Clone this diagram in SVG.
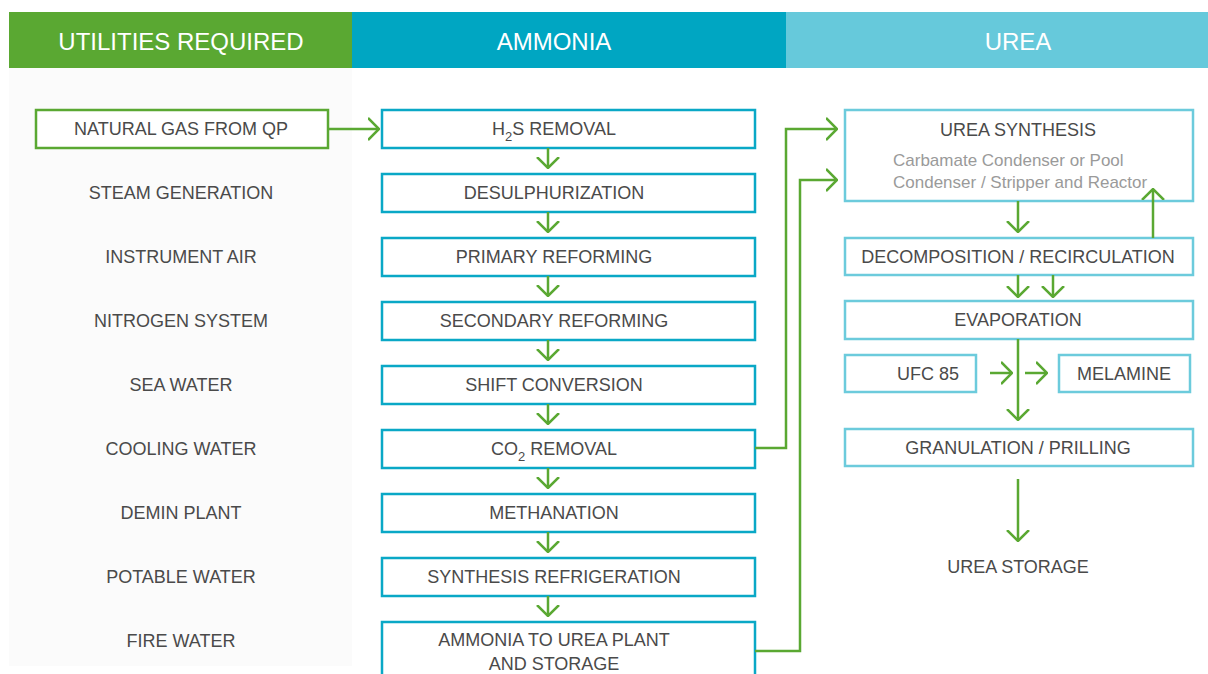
<svg xmlns="http://www.w3.org/2000/svg" width="1208" height="674" viewBox="0 0 1208 674">
  <style>
    .hdr { font-family: "Liberation Sans", Arial, sans-serif; font-size: 24px; fill: #ffffff; text-anchor: middle; }
    .lbl { font-family: "Liberation Sans", Arial, sans-serif; font-size: 18px; fill: #4a4a4a; text-anchor: middle; }
    .sub { font-family: "Liberation Sans", Arial, sans-serif; font-size: 17px; fill: #9a9a9a; }
    .amm { fill: #ffffff; stroke: #0aa8c6; stroke-width: 2.5; }
    .urea { fill: #ffffff; stroke: #6ccbdc; stroke-width: 2.5; }
    .gbox { fill: #ffffff; stroke: #5aa832; stroke-width: 2.5; }
    .flow { fill: none; stroke: #5aa832; stroke-width: 2.5; }
  </style>
  <defs>
    <marker id="chev" viewBox="0 0 12 24" refX="11" refY="12" markerWidth="12" markerHeight="24" markerUnits="userSpaceOnUse" orient="auto">
      <path d="M0,1 L11,12 L0,23" fill="none" stroke="#5aa832" stroke-width="2.5"/>
    </marker>
  </defs>

  <rect x="0" y="0" width="1208" height="674" fill="#ffffff"/>

  <!-- column headers -->
  <g id="headers">
    <rect x="9" y="68" width="343" height="598" fill="#fbfbfb"/>
    <rect x="9" y="12" width="343" height="56" fill="#5aa832"/>
    <rect x="352" y="12" width="434" height="56" fill="#00a6c2"/>
    <rect x="786" y="12" width="422" height="56" fill="#66c9db"/>
    <text class="hdr" x="181" y="50">UTILITIES REQUIRED</text>
    <text class="hdr" x="554" y="50">AMMONIA</text>
    <text class="hdr" x="1018" y="50">UREA</text>
  </g>

  <!-- utilities -->
  <g id="natural-gas"><rect class="gbox" x="36" y="110" width="292" height="38"/><text class="lbl" x="181" y="135">NATURAL GAS FROM QP</text></g>
  <g id="steam"><text class="lbl" x="181" y="199">STEAM GENERATION</text></g>
  <g id="instrument-air"><text class="lbl" x="181" y="263">INSTRUMENT AIR</text></g>
  <g id="nitrogen"><text class="lbl" x="181" y="327">NITROGEN SYSTEM</text></g>
  <g id="sea-water"><text class="lbl" x="181" y="391">SEA WATER</text></g>
  <g id="cooling-water"><text class="lbl" x="181" y="455">COOLING WATER</text></g>
  <g id="demin"><text class="lbl" x="181" y="519">DEMIN PLANT</text></g>
  <g id="potable-water"><text class="lbl" x="181" y="583">POTABLE WATER</text></g>
  <g id="fire-water"><text class="lbl" x="181" y="647">FIRE WATER</text></g>

  <!-- ammonia train -->
  <g id="h2s-removal"><rect class="amm" x="382" y="110" width="373" height="38"/><text class="lbl" x="554" y="135">H<tspan font-size="13" dy="6">2</tspan><tspan dy="-6">S REMOVAL</tspan></text></g>
  <g id="desulphurization"><rect class="amm" x="382" y="174" width="373" height="38"/><text class="lbl" x="554" y="199">DESULPHURIZATION</text></g>
  <g id="primary-reforming"><rect class="amm" x="382" y="238" width="373" height="38"/><text class="lbl" x="554" y="263">PRIMARY REFORMING</text></g>
  <g id="secondary-reforming"><rect class="amm" x="382" y="302" width="373" height="38"/><text class="lbl" x="554" y="327">SECONDARY REFORMING</text></g>
  <g id="shift-conversion"><rect class="amm" x="382" y="366" width="373" height="38"/><text class="lbl" x="554" y="391">SHIFT CONVERSION</text></g>
  <g id="co2-removal"><rect class="amm" x="382" y="430" width="373" height="38"/><text class="lbl" x="554" y="455">CO<tspan font-size="13" dy="6">2</tspan><tspan dy="-6"> REMOVAL</tspan></text></g>
  <g id="methanation"><rect class="amm" x="382" y="494" width="373" height="38"/><text class="lbl" x="554" y="519">METHANATION</text></g>
  <g id="synthesis-refrigeration"><rect class="amm" x="382" y="558" width="373" height="38"/><text class="lbl" x="554" y="583">SYNTHESIS REFRIGERATION</text></g>
  <g id="ammonia-to-urea"><rect class="amm" x="382" y="622" width="373" height="70"/><text class="lbl" x="554" y="646">AMMONIA TO UREA PLANT</text><text class="lbl" x="554" y="670">AND STORAGE</text></g>

  <!-- urea train -->
  <g id="urea-synthesis"><rect class="urea" x="845" y="110" width="348" height="91"/><text class="lbl" x="1018" y="136">UREA SYNTHESIS</text><text class="sub" x="893" y="166">Carbamate Condenser or Pool</text><text class="sub" x="893" y="188">Condenser / Stripper and Reactor</text></g>
  <g id="decomposition"><rect class="urea" x="845" y="238" width="348" height="37"/><text class="lbl" x="1018" y="263">DECOMPOSITION / RECIRCULATION</text></g>
  <g id="evaporation"><rect class="urea" x="845" y="301" width="348" height="38"/><text class="lbl" x="1018" y="326">EVAPORATION</text></g>
  <g id="ufc85"><rect class="urea" x="845" y="355" width="131" height="37"/><text class="lbl" x="928" y="380">UFC 85</text></g>
  <g id="melamine"><rect class="urea" x="1059" y="355" width="131" height="37"/><text class="lbl" x="1124" y="380">MELAMINE</text></g>
  <g id="granulation"><rect class="urea" x="845" y="429" width="348" height="37"/><text class="lbl" x="1018" y="454">GRANULATION / PRILLING</text></g>
  <g id="urea-storage"><text class="lbl" x="1018" y="573">UREA STORAGE</text></g>

  <!-- connectors -->
  <g id="connectors">
    <path class="flow" d="M328,129 H379" marker-end="url(#chev)"/>
    <path class="flow" d="M548,148 V168" marker-end="url(#chev)"/>
    <path class="flow" d="M548,212 V232" marker-end="url(#chev)"/>
    <path class="flow" d="M548,276 V296" marker-end="url(#chev)"/>
    <path class="flow" d="M548,340 V360" marker-end="url(#chev)"/>
    <path class="flow" d="M548,404 V424" marker-end="url(#chev)"/>
    <path class="flow" d="M548,468 V488" marker-end="url(#chev)"/>
    <path class="flow" d="M548,532 V552" marker-end="url(#chev)"/>
    <path class="flow" d="M548,596 V616" marker-end="url(#chev)"/>
    <path class="flow" d="M755,448 H786 V129 H837" marker-end="url(#chev)"/>
    <path class="flow" d="M755,651 H800 V180 H837" marker-end="url(#chev)"/>
    <path class="flow" d="M1018,201 V232" marker-end="url(#chev)"/>
    <path class="flow" d="M1153,238 V189" marker-end="url(#chev)"/>
    <path class="flow" d="M1018,275 V297" marker-end="url(#chev)"/>
    <path class="flow" d="M1053,275 V297" marker-end="url(#chev)"/>
    <path class="flow" d="M1018,339 V420" marker-end="url(#chev)"/>
    <path class="flow" d="M990,373 H1012" marker-end="url(#chev)"/>
    <path class="flow" d="M1025,373 H1047" marker-end="url(#chev)"/>
    <path class="flow" d="M1018,479 V541" marker-end="url(#chev)"/>
  </g>
</svg>
